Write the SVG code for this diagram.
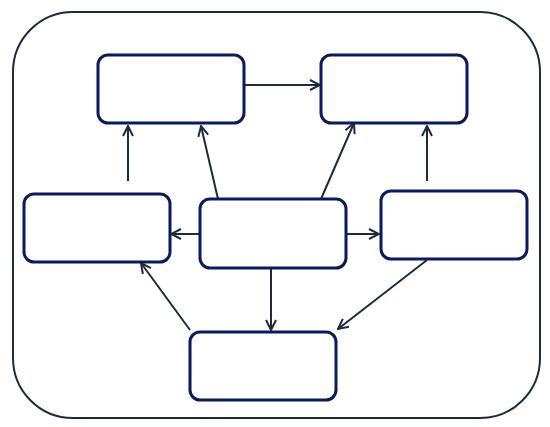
<svg xmlns="http://www.w3.org/2000/svg" width="550" height="427" viewBox="0 0 550 427">
<style>
.node{fill:#fff;stroke:#0a1a5c;stroke-width:3}
.edge{fill:none;stroke:#1e2b3e;stroke-width:2;marker-end:url(#ah)}
</style>
<defs>
<marker id="ah" viewBox="0 0 12 12" refX="11" refY="6" markerWidth="12" markerHeight="12" markerUnits="userSpaceOnUse" orient="auto">
<path d="M1,1 L11,6 L1,11" fill="none" stroke="#1e2b3e" stroke-width="2"/>
</marker>
</defs>
<rect width="550" height="427" fill="#fff"/>
<rect x="13" y="12" width="527" height="406" rx="60" fill="none" stroke="#1e2b3e" stroke-width="2"/>
<g id="connectors">
<line class="edge" x1="245" y1="85" x2="320" y2="85"/>
<line class="edge" x1="128" y1="181" x2="128" y2="126"/>
<line class="edge" x1="218" y1="199" x2="201" y2="126"/>
<line class="edge" x1="321" y1="199" x2="354" y2="123"/>
<line class="edge" x1="427" y1="181" x2="427" y2="126"/>
<line class="edge" x1="200" y1="234" x2="171" y2="234"/>
<line class="edge" x1="346" y1="234" x2="379" y2="234"/>
<line class="edge" x1="271" y1="268" x2="271" y2="330"/>
<line class="edge" x1="190" y1="330" x2="141" y2="263"/>
<line class="edge" x1="427" y1="260" x2="338" y2="329"/>
</g>
<g id="n1"><rect class="node" x="98" y="55" width="146" height="68" rx="10"/></g>
<g id="n2"><rect class="node" x="321" y="55" width="146" height="68" rx="10"/></g>
<g id="n3"><rect class="node" x="24" y="194" width="146" height="68" rx="10"/></g>
<g id="n4"><rect class="node" x="200" y="199" width="146" height="69" rx="10"/></g>
<g id="n5"><rect class="node" x="381" y="191" width="146" height="68" rx="10"/></g>
<g id="n6"><rect class="node" x="190" y="332" width="146" height="68" rx="10"/></g>
</svg>
